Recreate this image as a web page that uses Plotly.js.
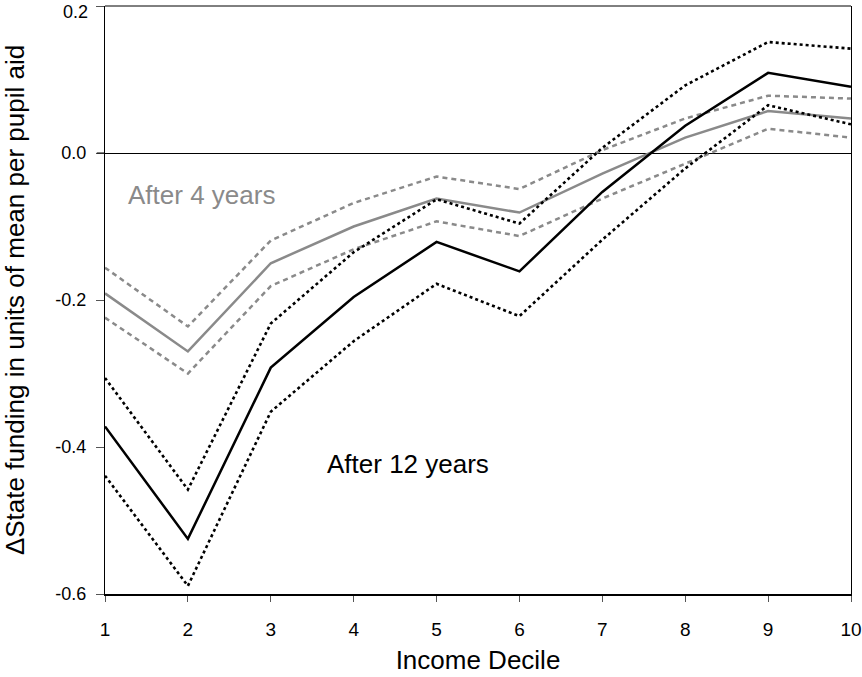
<!DOCTYPE html>
<html>
<head>
<meta charset="utf-8">
<script src="https://cdn.plot.ly/plotly-3.0.1.min.js"></script>
<style>
  html, body { margin: 0; padding: 0; background: #ffffff; }
  #chart { width: 862px; height: 677px; }
</style>
</head>
<body>
<div id="chart"></div>
<script>
// Income deciles on the x axis
const deciles = [1, 2, 3, 4, 5, 6, 7, 8, 9, 10];

// Change in state funding after 12 years, with its confidence band
const after12 = [-0.372, -0.525, -0.292, -0.196, -0.121, -0.161, -0.053, 0.037, 0.109, 0.090];
const after12Upper = [-0.306, -0.458, -0.232, -0.135, -0.063, -0.096, 0.007, 0.092, 0.151, 0.142];
const after12Lower = [-0.439, -0.589, -0.352, -0.256, -0.178, -0.222, -0.118, -0.021, 0.065, 0.039];

// Change in state funding after 4 years, with its confidence band
const after4 = [-0.191, -0.270, -0.150, -0.100, -0.062, -0.081, -0.028, 0.021, 0.057, 0.047];
const after4Upper = [-0.156, -0.236, -0.119, -0.068, -0.032, -0.049, 0.004, 0.047, 0.078, 0.074];
const after4Lower = [-0.224, -0.300, -0.181, -0.131, -0.093, -0.113, -0.062, -0.015, 0.033, 0.021];

const yTicks = [-0.6, -0.4, -0.2, 0.0, 0.2];
const xTicks = deciles;

const GRAY = '#8a8a8a';
const FONT = 'Liberation Sans, Arial, sans-serif';
const TICK_FONT = { size: 18, family: FONT, color: '#000000' };

function line(y, color, dash, width) {
  return {
    x: deciles, y: y, type: 'scatter', mode: 'lines',
    line: { color: color, width: width, dash: dash },
    hoverinfo: 'skip', showlegend: false, cliponaxis: false
  };
}

const traces = [
  line(after4Upper, GRAY, '5px,4px', 2.5),
  line(after4Lower, GRAY, '5px,4px', 2.5),
  line(after4, GRAY, 'solid', 2.5),
  line(after12Upper, '#000000', '3px,3px', 2.6),
  line(after12Lower, '#000000', '3px,3px', 2.6),
  line(after12, '#000000', 'solid', 2.5)
];

// The topmost y label sits on the frame edge, so it is drawn a little lower
// as an annotation to keep it inside the page.
const topTick = yTicks[yTicks.length - 1];
const yTickText = yTicks.map(v => (v === topTick ? '' : v.toFixed(1)));

const layout = {
  width: 862, height: 677,
  margin: { l: 105, r: 11, t: 6, b: 83 },
  paper_bgcolor: '#ffffff', plot_bgcolor: '#ffffff',
  font: { family: FONT, color: '#000000' },
  showlegend: false,
  xaxis: {
    range: [1, 10], tickvals: xTicks, ticktext: xTicks.map(String),
    showgrid: false, zeroline: false,
    showline: true, linecolor: '#000000', linewidth: 2,
    ticks: 'outside', ticklen: 6, tickcolor: '#555555', tickwidth: 1,
    ticklabelstandoff: 11, ticklabeloverflow: 'allow',
    tickfont: { size: 19, family: FONT, color: '#000000' },
    title: { text: 'Income Decile', font: { size: 26, family: FONT, color: '#000000' }, standoff: 12 }
  },
  yaxis: {
    range: [-0.6, 0.2], tickvals: yTicks, ticktext: yTickText,
    showgrid: false,
    zeroline: true, zerolinecolor: '#000000', zerolinewidth: 1,
    showline: true, linecolor: '#000000', linewidth: 1, mirror: true,
    ticks: 'outside', ticklen: 8, tickcolor: '#555555', tickwidth: 1,
    ticklabelstandoff: 6, ticklabeloverflow: 'allow',
    tickfont: TICK_FONT,
    title: { text: '\u0394State funding in units of mean per pupil aid', font: { size: 26, family: FONT, color: '#000000' }, standoff: 24 }
  },
  shapes: [
    { type: 'line', xref: 'paper', yref: 'paper', x0: 0, x1: 1, y0: 1, y1: 1,
      line: { color: '#000000', width: 1 } },
    { type: 'line', xref: 'paper', yref: 'y', x0: -0.011, x1: 0, y0: 0, y1: 0,
      line: { color: '#000000', width: 1 } }
  ],
  annotations: [
    { x: 0, y: topTick, xref: 'paper', yref: 'y', text: topTick.toFixed(1),
      showarrow: false, xanchor: 'right', yanchor: 'middle',
      xshift: -15, yshift: -6, font: TICK_FONT },
    { x: 1.253, y: -0.0565, xref: 'x', yref: 'y', text: 'After 4 years',
      showarrow: false, xanchor: 'left', yanchor: 'middle',
      font: { size: 26, family: FONT, color: GRAY } },
    { x: 3.654, y: -0.4227, xref: 'x', yref: 'y', text: 'After 12 years',
      showarrow: false, xanchor: 'left', yanchor: 'middle',
      font: { size: 26, family: FONT, color: '#000000' } }
  ]
};

Plotly.newPlot('chart', traces, layout, { displayModeBar: false, staticPlot: true });
</script>
</body>
</html>
